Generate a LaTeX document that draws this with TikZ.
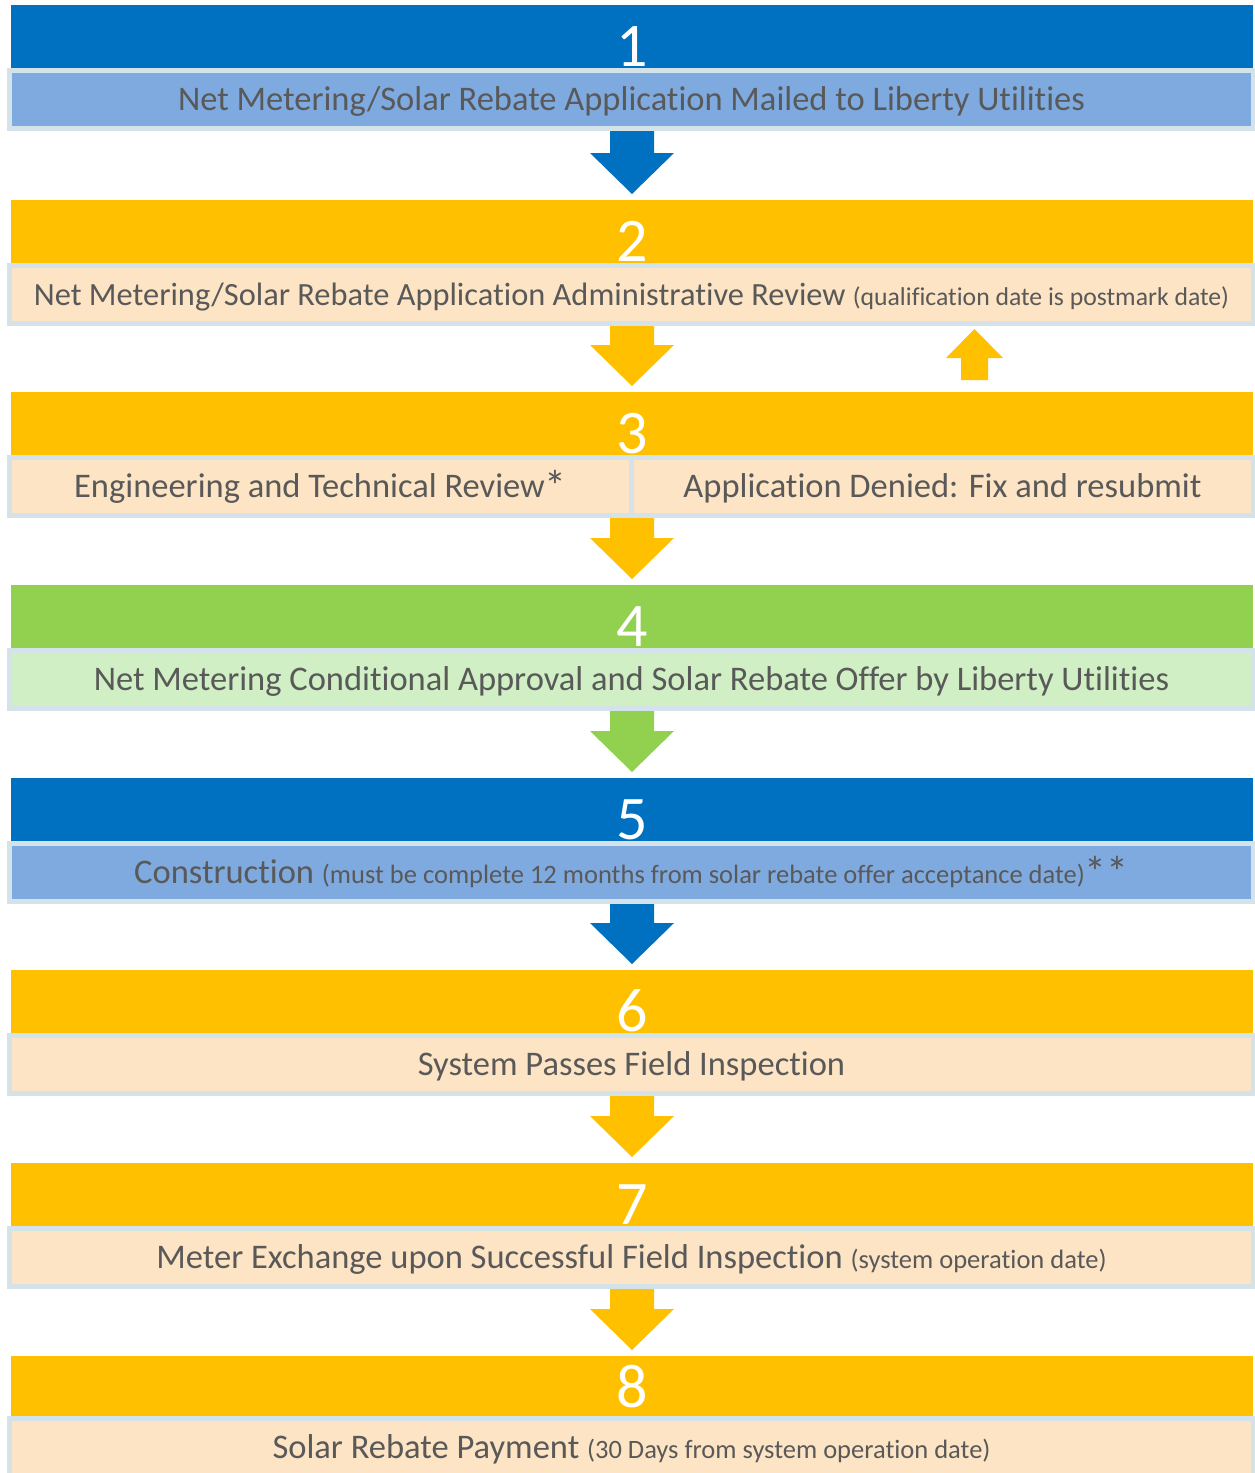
\documentclass[tikz,border=0pt]{standalone}
\usepackage{fontspec}
\setmainfont{Carlito}[Ligatures={NoCommon}]
\usetikzlibrary{calc}
\definecolor{dblue}{HTML}{0070C0}
\definecolor{lblue}{HTML}{7FAADF}
\definecolor{dyell}{HTML}{FFC000}
\definecolor{lpeach}{HTML}{FCE4C4}
\definecolor{dgreen}{HTML}{92D050}
\definecolor{lgreen}{HTML}{D0EFC4}
\definecolor{bord}{HTML}{D4E2EA}
\definecolor{tgray}{HTML}{595959}
\newcommand\smalltxt[1]{{\fontsize{26.5}{30}\selectfont #1}}
\newcommand\bigast{\raisebox{-4pt}{\fontsize{44}{44}\selectfont *}}
\newcommand\downarr[3]{%
  \fill[#1] let \p1=(#2), \p2=(#3.north) in
    (\x2-22pt,\y1) -- (\x2+22pt,\y1) -- (\x2+22pt,\y2+47pt) -- (\x2+42pt,\y2+47pt)
    -- (\x2,\y2+6pt) -- (\x2-42pt,\y2+47pt) -- (\x2-22pt,\y2+47pt) -- cycle;}
\begin{document}
\begin{tikzpicture}[x=1pt,y=-1pt,
  band/.style={rectangle, fill=#1, inner sep=0pt, outer sep=0pt, minimum width=1242pt,
    minimum height=63pt, text height=60pt, text depth=0pt,
    font=\fontsize{62}{62}\selectfont, text=white, anchor=north west},
  box/.style={rectangle, fill=#1, draw=bord, line width=5pt, inner sep=0pt,
    minimum width=1244pt, minimum height=58pt, text height=30pt, text depth=8pt,
    font=\fontsize{34.5}{40}\selectfont, text=tgray, anchor=north west},
  halfbox/.style={box=#1, minimum width=622pt}]
\useasboundingbox (0,0) rectangle (1255,1473);
\clip (0,0) rectangle (1255,1473);
% row 1
\node[box=lblue] (b1) at (7,68) {Net Metering/Solar Rebate Application Mailed to Liberty Utilities};
\node[band=dblue] (h1) at (11,5) {1};
% row 2
\node[box=lpeach, font=\fontsize{32.4}{38}\selectfont] (b2) at (7,263) {Net Metering/Solar Rebate Application Administrative Review {\fontsize{25.7}{30}\selectfont (qualification date is postmark date)}};
\node[band=dyell] (h2) at (11,200) {2};
% row 3
\node[halfbox=lpeach] (b3a) at (7,455) {Engineering and Technical Review\bigast};
\node[halfbox=lpeach] (b3b) at (629,455) {Application Denied: Fix and resubmit};
\node[band=dyell] (h3) at (11,392) {3};
% row 4
\node[box=lgreen] (b4) at (7,648) {Net Metering Conditional Approval and Solar Rebate Offer by Liberty Utilities};
\node[band=dgreen] (h4) at (11,585) {4};
% row 5
\node[box=lblue] (b5) at (7,841) {Construction \smalltxt{(must be complete 12 months from solar rebate offer acceptance date)}\bigast\bigast};
\node[band=dblue] (h5) at (11,778) {5};
% row 6
\node[box=lpeach] (b6) at (7,1033) {System Passes Field Inspection};
\node[band=dyell] (h6) at (11,970) {6};
% row 7
\node[box=lpeach] (b7) at (7,1226) {Meter Exchange upon Successful Field Inspection \smalltxt{(system operation date)}};
\node[band=dyell] (h7) at (11,1163) {7};
% row 8
\node[box=lpeach] (b8) at (7,1416) {Solar Rebate Payment \smalltxt{(30 Days from system operation date)}};
\node[band=dyell, minimum height=60pt, text height=42pt] (h8) at (11,1356) {8};
% down arrows
\downarr{dblue}{b1.south}{h2}
\downarr{dyell}{b2.south}{h3}
\downarr{dyell}{b3a.south east}{h4}
\downarr{dgreen}{b4.south}{h5}
\downarr{dblue}{b5.south}{h6}
\downarr{dyell}{b6.south}{h7}
\downarr{dyell}{b7.south}{h8}
% up arrow (resubmit)
\coordinate (upbase) at (974.5,380);
\coordinate (uptip) at (974.5,329);
\fill[dyell] let \p1=(upbase), \p2=(uptip) in
  (\x1-13.5pt,\y1) -- (\x1-13.5pt,\y2-29pt) -- (\x1-28.5pt,\y2-29pt) -- (\x2,\y2)
  -- (\x1+28.5pt,\y2-29pt) -- (\x1+13.5pt,\y2-29pt) -- (\x1+13.5pt,\y1) -- cycle;
\end{tikzpicture}
\end{document}
